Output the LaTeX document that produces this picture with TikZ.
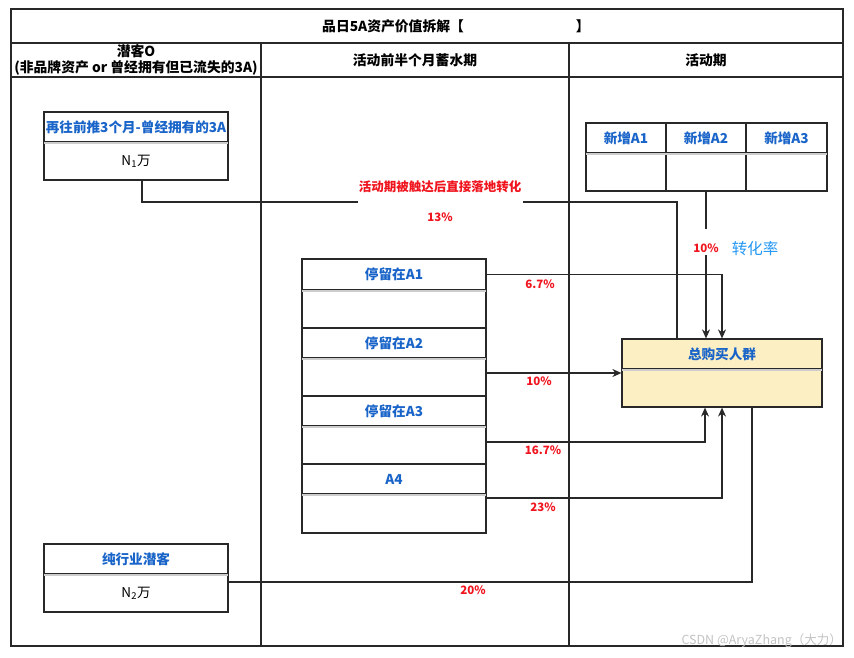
\documentclass[tikz,border=0pt]{standalone}
\usepackage{fontspec}
\setmainfont{Noto Sans CJK SC}
\usetikzlibrary{arrows.meta}
\definecolor{lineC}{RGB}{40,40,40}
\definecolor{blueT}{RGB}{25,100,200}
\definecolor{lightB}{RGB}{33,150,243}
\definecolor{redT}{RGB}{240,20,30}
\definecolor{divC}{RGB}{205,205,205}
\definecolor{yel}{RGB}{253,239,196}
\definecolor{wm}{RGB}{195,195,195}
\tikzset{
  frame/.style={draw=lineC, line width=1.1pt},
  hdr/.style={draw=lineC, line width=1.2pt, rectangle, inner sep=0pt, font=\fontsize{13.6}{16}\selectfont\bfseries, text=blueT},
  bdy/.style={draw=lineC, line width=1.2pt, rectangle, inner sep=0pt, font=\fontsize{13.5}{16}\selectfont},
  coltitle/.style={inner sep=0pt, align=center, font=\fontsize{13.8}{16}\selectfont\bfseries},
  divider/.style={draw=divC, line width=1.8pt},
  conn/.style={draw=lineC, line width=1.2pt},
  arr/.style={conn, -{Stealth[length=9pt,width=8pt]}},
  pct/.style={inner sep=1pt, text=redT, font=\fontsize{11.5}{13}\selectfont\bfseries},
}
\begin{document}
\begin{tikzpicture}[x=1pt,y=-1pt]
\useasboundingbox (0,0) rectangle (854,657);
% table frame
\draw[frame] (11,9) rectangle (843,646);
\draw[frame] (11,43) -- (843,43);
\draw[frame] (11,77) -- (843,77);
\draw[frame] (261,43) -- (261,646);
\draw[frame] (569,43) -- (569,646);
\node[coltitle, anchor=west] (title) at (322,26) {品日5A资产价值拆解【\hspace*{112pt}】};
\node[coltitle] (col1) at (136,60) {潜客O\\(非品牌资产 or 曾经拥有但已流失的3A)};
\node[coltitle] (col2) at (415,60) {活动前半个月蓄水期};
\node[coltitle] (col3) at (706,60) {活动期};

% left boxes
\node[hdr, minimum width=184pt, minimum height=30pt] (n1h) at (136,127) {再往前推3个月-曾经拥有的3A};
\node[bdy, minimum width=184pt, minimum height=38pt] (n1b) at (136,161) {N\textsubscript{1}万};
\draw[divider] ([xshift=1pt]n1h.south west) -- ([xshift=-1pt]n1h.south east);
\node[hdr, minimum width=184pt, minimum height=30pt] (n2h) at (136,559) {纯行业潜客};
\node[bdy, minimum width=184pt, minimum height=38pt] (n2b) at (136,593) {N\textsubscript{2}万};
\draw[divider] ([xshift=1pt]n2h.south west) -- ([xshift=-1pt]n2h.south east);

% middle stack
\node[hdr, minimum width=184pt, minimum height=31pt] (s1h) at (394,274.5) {停留在A1};
\node[bdy, minimum width=184pt, minimum height=38pt] (s1b) at (394,309) {};
\node[hdr, minimum width=184pt, minimum height=30pt] (s2h) at (394,343) {停留在A2};
\node[bdy, minimum width=184pt, minimum height=38pt] (s2b) at (394,377) {};
\node[hdr, minimum width=184pt, minimum height=30pt] (s3h) at (394,411) {停留在A3};
\node[bdy, minimum width=184pt, minimum height=38pt] (s3b) at (394,445) {};
\node[hdr, minimum width=184pt, minimum height=30pt] (s4h) at (394,479) {A4};
\node[bdy, minimum width=184pt, minimum height=39pt] (s4b) at (394,513.5) {};
\foreach \n in {s1h,s2h,s3h,s4h}{\draw[divider] ([xshift=1pt]\n.south west) -- ([xshift=-1pt]\n.south east);}

% new A boxes
\node[hdr, minimum width=80pt, minimum height=30pt] (a1h) at (626,138) {新增A1};
\node[bdy, minimum width=80pt, minimum height=38pt] (a1b) at (626,172) {};
\node[hdr, minimum width=80pt, minimum height=30pt] (a2h) at (706,138) {新增A2};
\node[bdy, minimum width=80pt, minimum height=38pt] (a2b) at (706,172) {};
\node[hdr, minimum width=81pt, minimum height=30pt] (a3h) at (786.5,138) {新增A3};
\node[bdy, minimum width=81pt, minimum height=38pt] (a3b) at (786.5,172) {};
\draw[divider] ([xshift=1pt]a1h.south west) -- ([xshift=-1pt]a3h.south east);

% total box
\node[hdr, fill=yel, minimum width=200pt, minimum height=30pt] (toth) at (722,354) {总购买人群};
\node[bdy, fill=yel, minimum width=200pt, minimum height=38pt] (totb) at (722,388) {};
\draw[divider] ([xshift=1pt]toth.south west) -- ([xshift=-1pt]toth.south east);

% connectors
\coordinate (c1) at (677,202);
\draw[conn] ([xshift=6pt]n1b.south) |- (c1) -- (c1 |- toth.north);
\node[inner sep=0pt, fill=white, minimum width=165pt, minimum height=44pt] (l13) at (440,202) {};
\node[pct, font=\fontsize{12.5}{14}\selectfont\bfseries] (t13) at (440,187) {活动期被触达后直接落地转化};
\node[pct] (p13) at (440,217) {13\%};

\draw[arr] (a2b.south) -- (a2b.south |- toth.north);
\node[pct, fill=white, minimum height=26pt, minimum width=26pt] (p10a) at (706,242) {};
\node[pct] (p10t) at (706,248) {10\%};
\node[inner sep=0pt, text=lightB, font=\fontsize{15.5}{18}\selectfont] (zhl) at (755,249) {转化率};

\draw[arr] (s1h.east) -| (toth.north);
\draw[arr] ([yshift=4pt]s2b.east) -- ([yshift=4pt]s2b.east -| totb.west);
\draw[arr] ([yshift=3pt]s3b.east) -| ([xshift=-17pt]totb.south);
\draw[arr] ([yshift=15.5pt]s4b.east) -| (totb.south);
\draw[conn] ([xshift=30pt]totb.south) |- ([yshift=11pt]n2b.east);

\node[pct] (p67) at (540,284) {6.7\%};
\node[pct] (p10b) at (539,381) {10\%};
\node[pct] (p167) at (543,450) {16.7\%};
\node[pct] (p23) at (543,507) {23\%};
\node[pct] (p20) at (473,590) {20\%};

\node[inner sep=0pt, anchor=east, text=wm, font=\fontsize{12.5}{14}\selectfont] (wmk) at (842,641) {CSDN @AryaZhang（大力）};
\end{tikzpicture}
\end{document}
